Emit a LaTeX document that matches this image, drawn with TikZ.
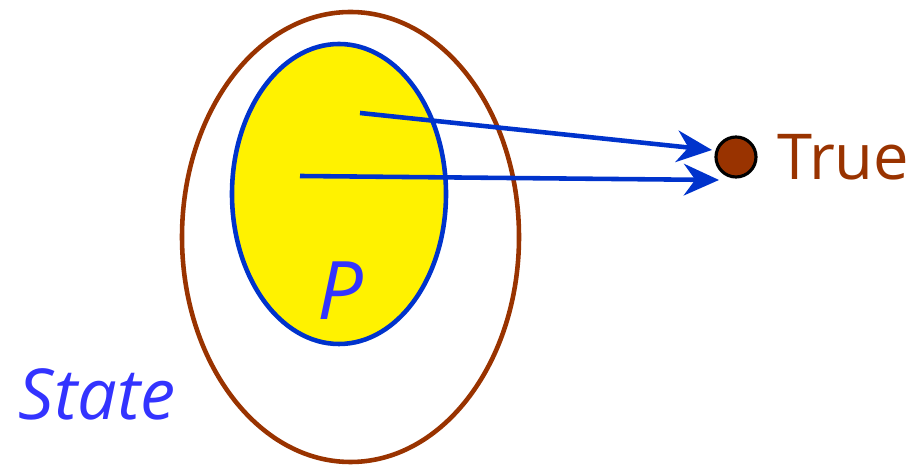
\documentclass[tikz,border=0pt]{standalone}
\usepackage{fontspec}
\setmainfont{Open Sans}
\usepackage{xcolor}
\usetikzlibrary{positioning,arrows.meta}
\definecolor{stbrown}{HTML}{993300}
\definecolor{stblue}{HTML}{0033CC}
\definecolor{txtblue}{HTML}{3333FF}

\begin{document}
\begin{tikzpicture}[
    x=1cm, y=1cm,
    link/.style={-{Stealth[length=10pt,width=9pt]}, draw=stblue, line width=1.3pt},
    lbl/.style={inner sep=0pt, font=\fontsize{19}{22}\selectfont}
]
    \useasboundingbox (0,0) rectangle (9.09,4.65);

    % State space
    \draw[stbrown, line width=1.3pt] (3.505,2.28) ellipse [x radius=1.685, y radius=2.25];
    \node[lbl, text=txtblue, font=\fontsize{20}{24}\selectfont\itshape] (state) at (0.97,0.71) {State};

    % Predicate P
    \draw[stblue, fill=yellow, line width=1.3pt] (3.39,2.71) ellipse [x radius=1.07, y radius=1.50];
    \node[lbl, text=txtblue, font=\fontsize{23}{27}\selectfont\itshape] (pred) at (3.40,1.74) {P};

    % True value
    \node[circle, draw=black, fill=stbrown, line width=0.9pt, minimum size=0.40cm, inner sep=0pt] (dot) at (7.36,3.08) {};
    \node[lbl, text=stbrown, right=0.19cm of dot, font=\fontsize{18}{22}\selectfont] (true) {True};

    % Arrows
    \coordinate (a1) at (3.60,3.52);
    \coordinate (a2) at (3.00,2.89);
    \draw[link] (a1) -- (7.12,3.15);
    \draw[link] (a2) -- (7.19,2.85);
\end{tikzpicture}
\end{document}
